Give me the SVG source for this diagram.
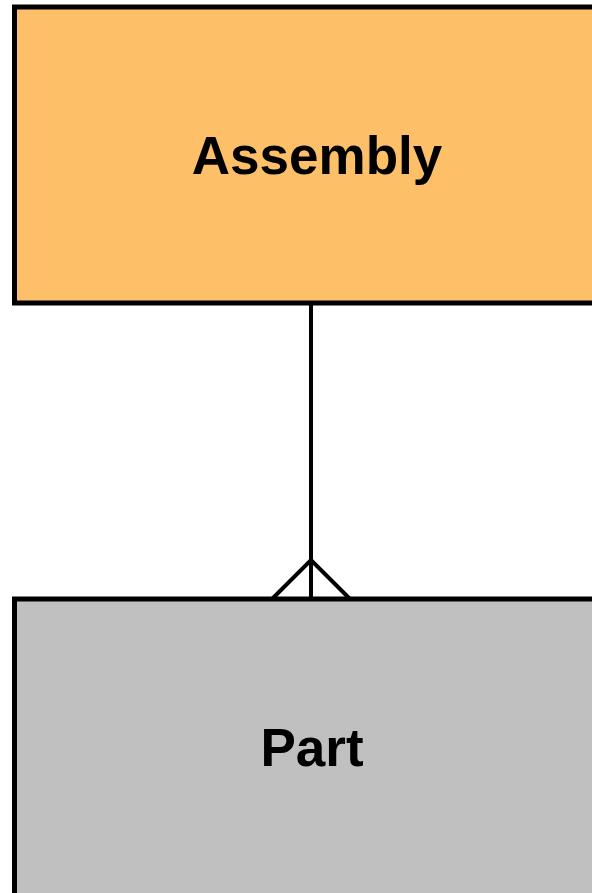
<svg xmlns="http://www.w3.org/2000/svg" width="592" height="893" viewBox="0 0 592 893">
  <style>
    .entity { stroke: #000; stroke-width: 5; }
    .label { font-family: "Liberation Sans", Arial, sans-serif; font-weight: bold; font-size: 53px; fill: #000; text-anchor: middle; }
    .link { stroke: #000; stroke-width: 4; fill: none; }
  </style>
  <rect width="592" height="893" fill="#fff"/>
  <g id="assembly">
    <rect class="entity" x="14.5" y="7" width="620" height="296" fill="#fdc068"/>
    <text class="label" x="317" y="174">Assembly</text>
  </g>
  <g id="part">
    <rect class="entity" x="14.5" y="599" width="620" height="310" fill="#c0c0c0"/>
    <text class="label" x="312" y="766">Part</text>
  </g>
  <g id="connectors">
    <path class="link" d="M311 303 V599"/>
    <path class="link" d="M272 599 L311 560 L350 599"/>
  </g>
</svg>
